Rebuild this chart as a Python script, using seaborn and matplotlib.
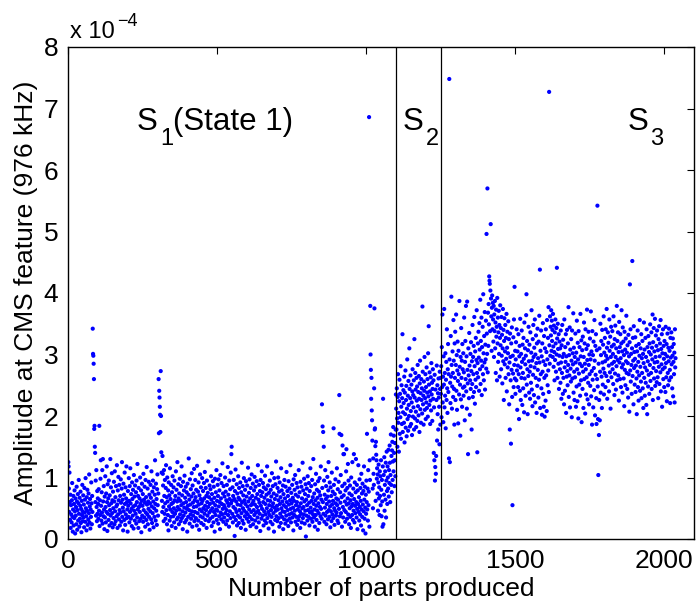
import numpy as np
import pandas as pd
import matplotlib
matplotlib.use("Agg")
import matplotlib.pyplot as plt
from matplotlib.ticker import FuncFormatter
import seaborn as sns

# Amplitude values in units of 1e-6, one per part produced
state1_amp = [
125, 118, 82, 44, 108, 60, 31, 72, 18, 55, 40, 27, 63, 91, 36, 12, 48, 70, 22, 57, 34, 79, 45, 9, 66,
38, 52, 24, 85, 61, 15, 47, 73, 30, 58, 96, 41, 20, 67, 33, 54, 77, 26, 49, 11, 62, 39, 88, 45, 29,
71, 35, 56, 19, 83, 43, 64, 28, 99, 50, 37, 14, 68, 46, 80, 23, 59, 32, 74, 42, 105, 27, 53, 65, 17,
48, 36, 92, 58, 24, 70, 44, 342, 301, 298, 285, 260, 179, 184, 150, 140, 60, 95, 38, 112, 52, 29, 78, 41, 66,
57, 33, 81, 46, 184, 21, 63, 39, 98, 128, 54, 30, 76, 43, 112, 25, 130, 61, 37, 86, 48, 16, 69, 35, 102,
52, 27, 74, 44, 118, 60, 13, 89, 41, 66, 31, 95, 55, 22, 71, 47, 130, 38, 84, 58, 26, 107, 42, 63, 19,
77, 50, 34, 93, 61, 24, 110, 45, 68, 29, 86, 53, 37, 120, 56, 18, 79, 40, 101, 63, 32, 88, 47, 22, 70,
43, 97, 59, 28, 82, 125, 36, 64, 51, 14, 90, 45, 72, 31, 108, 57, 23, 84, 40, 66, 118, 34, 60, 48, 12,
78, 54, 36, 99, 62, 27, 86, 44, 115, 58, 33, 73, 49, 21, 92, 65, 38, 80, 53, 17, 104, 46, 69, 30, 87,
55, 41, 76, 25, 95, 60, 35, 122, 48, 70, 18, 83, 52, 29, 66, 44, 100, 57, 33, 79, 11, 62, 90, 38, 54,
73, 28, 106, 47, 64, 35, 85, 59, 20, 96, 43, 68, 31, 117, 56, 40, 82, 24, 61, 49, 93, 36, 72, 15, 58,
45, 88, 67, 32, 110, 53, 26, 77, 42, 95, 61, 19, 84, 50, 36, 72, 128, 57, 30, 90, 46, 65, 23, 81, 105,
55, 38, 74, 260, 172, 241, 230, 215, 202, 174, 273, 200, 141, 108, 62, 44, 135, 106, 87, 52, 29, 112, 70, 41, 96,
58, 33, 83, 120, 47, 68, 24, 100, 61, 39, 79, 14, 92, 53, 71, 30, 115, 48, 65, 36, 88, 57, 21, 76, 44,
102, 59, 37, 84, 50, 27, 95, 63, 41, 70, 18, 110, 46, 80, 32, 61, 125, 52, 35, 89, 66, 24, 74, 48, 98,
40, 62, 29, 86, 55, 118, 34, 71, 45, 16, 93, 58, 38, 79, 51, 103, 27, 67, 43, 85, 60, 31, 76, 49, 12,
90, 54, 36, 72, 131, 47, 64, 25, 97, 56, 40, 81, 33, 69, 107, 45, 20, 87, 59, 38, 74, 52, 114, 29, 63,
44, 96, 68, 34, 80, 53, 22, 119, 61, 42, 77, 30, 92, 56, 15, 71, 48, 105, 37, 65, 84, 26, 58, 45, 99,
62, 35, 78, 50, 23, 91, 66, 41, 109, 54, 31, 83, 47, 70, 18, 95, 60, 38, 75, 52, 126, 29, 68, 43, 87,
57, 33, 81, 46, 102, 64, 21, 73, 50, 36, 94, 59, 27, 85, 44, 67, 12, 98, 55, 39, 76, 48, 112, 31, 62,
46, 88, 70, 25, 97, 53, 37, 79, 60, 16, 104, 43, 66, 32, 91, 57, 40, 123, 49, 74, 28, 86, 55, 35, 69,
51, 100, 42, 77, 24, 63, 47, 88, 30, 59, 117, 39, 72, 54, 20, 95, 65, 45, 81, 34, 108, 58, 138, 150, 62,
41, 84, 27, 70, 52, 96, 36, 65, 5, 78, 49, 113, 31, 61, 44, 89, 22, 74, 56, 38, 102, 67, 26, 83, 47,
64, 35, 92, 55, 18, 76, 42, 124, 60, 30, 86, 50, 71, 25, 99, 46, 63, 37, 80, 57, 15, 94, 43, 69, 33,
87, 53, 40, 116, 61, 28, 75, 48, 97, 36, 66, 21, 83, 55, 44, 105, 32, 70, 58, 90, 24, 62, 47, 79, 39,
101, 56, 30, 85, 67, 43, 19, 94, 52, 73, 35, 120, 46, 64, 27, 88, 59, 41, 78, 13, 96, 54, 70, 33, 110,
49, 76, 38, 91, 60, 22, 84, 45, 67, 30, 103, 57, 40, 81, 26, 72, 50, 118, 34, 63, 87, 44, 17, 75, 55,
39, 95, 62, 28, 80, 47, 69, 36, 107, 53, 24, 86, 58, 42, 74, 12, 99, 51, 65, 31, 89, 46, 126, 37, 71,
54, 29, 83, 48, 100, 63, 34, 77, 20, 92, 57, 41, 68, 26, 115, 50, 79, 36, 61, 45, 87, 16, 73, 55, 32,
96, 44, 66, 25, 85, 52, 38, 109, 60, 30, 78, 47, 70, 21, 94, 56, 40, 82, 33, 63, 120, 49, 27, 75, 58,
42, 88, 35, 67, 51, 14, 97, 62, 39, 80, 46, 104, 28, 72, 55, 36, 91, 60, 23, 84, 48, 69, 31, 112, 53,
37, 76, 45, 18, 93, 58, 41, 85, 27, 66, 50, 124, 34, 79, 52, 40, 98, 61, 25, 73, 46, 89, 4, 64, 38,
82, 55, 30, 102, 47, 70, 36, 91, 59, 22, 78, 43, 115, 51, 33, 86, 62, 45, 96, 28, 68, 40, 130, 57, 35,
74, 48, 20, 89, 63, 39, 106, 54, 31, 80, 46, 67, 15, 94, 58, 42, 77, 26, 99, 52, 71, 37, 118, 49, 64,
33, 219, 83, 183, 60, 174, 41, 150, 95, 28, 72, 51, 112, 38, 65, 86, 24, 57, 44, 101, 69, 32, 79, 125, 47,
61, 36, 92, 53, 19, 84, 45, 70, 29, 108, 56, 40, 77, 62, 34, 180, 88, 50, 23, 73, 46, 97, 58, 38, 66,
43, 115, 55, 30, 81, 64, 26, 93, 49, 234, 171, 37, 76, 59, 104, 42, 169, 68, 20, 86, 152, 52, 35, 138, 71,
138, 47, 90, 61, 28, 79, 44, 110, 146, 56, 33, 83, 66, 122, 40, 95, 58, 24, 74, 50, 87, 36, 63, 18, 100,
53, 71, 39, 125, 57, 31, 82, 46, 138, 65, 27, 92, 54, 42, 76, 130, 60, 35, 88, 49, 16, 79, 57, 120, 44,
68, 30, 97, 52, 40, 83, 62, 22, 106, 48, 74, 36, 90, 56, 14, 78, 45, 118, 64, 33, 85, 51, 9, 72, 41,
95, 60, 171, 48, 82, 30, 112, 55, 77, 686, 20, 128, 96, 379, 300, 275, 228, 262, 209, 193, 160, 82, 50, 131, 106,
88, 245, 375, 178, 180, 151, 62, 158, 137, 128, 98, 115, 74, 105, 46, 92, 121, 66, 84, 39, 110, 70, 102, 55, 128,
80, 37, 96, 61, 20, 118, 228, 24, 104, 72, 133, 46, 88, 110, 64, 124, 35, 95, 142, 78, 57, 118, 100, 82, 145,
69, 112, 91, 152, 124, 60, 104, 170, 88, 135, 76, 144, 158, 96, 126, 182, 110, 168, 140, 86, 128, 156, 102, 178, 235,
]

state2_amp = [
212, 178, 245, 196, 150, 231, 268, 189, 205, 142, 224, 259, 171, 236, 198, 281, 163, 215, 250, 187, 229, 333, 174, 206, 242,
221, 189, 264, 157, 238, 203, 274, 181, 226, 249, 167, 212, 292, 195, 233, 176, 257, 218, 200, 310, 244, 183, 229, 266, 208,
187, 251, 222, 169, 240, 276, 199, 234, 214, 258, 178, 325, 230, 196, 270, 243, 207, 182, 262, 225, 248, 192, 283, 216, 239,
201, 265, 228, 174, 253, 290, 211, 237, 189, 260, 226, 245, 204, 378, 272, 219, 233, 186, 256, 241, 296, 210, 229, 268, 195,
247, 222, 279, 213, 238, 260, 199, 302, 232, 346, 251, 218, 271, 240, 187, 225, 263, 209, 286, 235, 254, 192, 244, 276, 228,
258, 140, 214, 128, 267, 95, 117, 243, 106, 135, 226, 282, 160, 250, 203, 237, 178, 261, 230, 215, 154, 272, 244, 186, 262,
]

state3_amp = [
236, 281, 198, 312, 247, 365, 222, 264, 190, 297, 251, 374, 214, 270, 233, 302, 180, 259, 288, 226, 341, 245, 205, 276, 317,
239, 268, 131, 748, 292, 125, 254, 221, 330, 264, 394, 283, 212, 248, 305, 270, 231, 356, 290, 244, 186, 318, 262, 337, 226,
283, 365, 241, 299, 210, 274, 321, 257, 188, 306, 268, 235, 387, 280, 251, 168, 296, 227, 343, 262, 290, 215, 317, 276, 246,
302, 233, 271, 360, 248, 193, 288, 322, 260, 379, 240, 297, 212, 386, 275, 253, 138, 310, 266, 229, 335, 282, 202, 258, 301,
244, 320, 273, 178, 289, 252, 348, 231, 296, 268, 314, 239, 361, 281, 220, 305, 259, 327, 247, 291, 372, 270, 141, 286, 318,
263, 337, 295, 241, 351, 308, 276, 389, 252, 322, 290, 360, 234, 312, 281, 345, 268, 398, 302, 258, 330, 287, 369, 243, 316,
292, 355, 277, 496, 334, 301, 570, 271, 368, 314, 382, 349, 427, 420, 415, 338, 404, 512, 391, 362, 306, 376, 396, 341, 384,
357, 321, 379, 296, 365, 338, 387, 310, 352, 270, 373, 329, 345, 258, 392, 318, 360, 288, 336, 371, 301, 348, 264, 327, 380,
315, 343, 276, 361, 298, 332, 253, 310, 374, 289, 340, 226, 322, 359, 284, 305, 348, 262, 327, 293, 366, 240, 311, 337, 279,
302, 354, 268, 325, 219, 287, 178, 334, 296, 258, 155, 318, 275, 344, 231, 55, 298, 269, 328, 247, 357, 283, 410, 261, 306,
236, 292, 320, 258, 341, 274, 210, 305, 282, 247, 333, 268, 195, 297, 314, 241, 358, 279, 226, 301, 262, 339, 288, 218, 316,
270, 245, 327, 293, 206, 352, 261, 310, 284, 233, 298, 364, 398, 251, 322, 276, 203, 307, 265, 345, 289, 238, 316, 272, 228,
336, 281, 254, 303, 372, 243, 290, 216, 325, 267, 348, 296, 234, 311, 279, 357, 222, 300, 262, 331, 286, 205, 318, 249, 342,
275, 294, 230, 321, 259, 363, 287, 438, 213, 306, 268, 339, 245, 297, 202, 318, 272, 351, 236, 289, 215, 330, 262, 199, 310,
283, 225, 341, 266, 304, 208, 356, 292, 250, 327, 274, 377, 239, 727, 315, 285, 362, 298, 345, 331, 372, 306, 355, 322, 340,
296, 366, 313, 280, 347, 304, 258, 336, 291, 357, 318, 272, 343, 300, 441, 326, 262, 350, 309, 285, 333, 244, 298, 321, 276,
310, 254, 339, 287, 228, 315, 270, 348, 296, 236, 324, 262, 301, 219, 357, 279, 241, 312, 288, 333, 205, 297, 264, 340, 273,
250, 318, 283, 377, 231, 299, 266, 344, 214, 308, 277, 256, 325, 290, 198, 339, 261, 302, 284, 367, 238, 311, 272, 226, 296,
263, 334, 287, 215, 303, 248, 355, 276, 224, 319, 292, 196, 338, 269, 251, 312, 285, 233, 366, 297, 258, 323, 190, 281, 307,
244, 329, 272, 213, 296, 352, 260, 318, 285, 204, 341, 276, 235, 309, 263, 373, 291, 227, 315, 254, 337, 283, 219, 300, 268,
326, 249, 292, 370, 232, 305, 273, 186, 338, 259, 299, 214, 321, 278, 242, 356, 290, 201, 314, 267, 333, 229, 187, 307, 260,
542, 248, 195, 104, 285, 169, 226, 310, 193, 272, 350, 238, 299, 322, 264, 213, 340, 287, 251, 316, 277, 362, 235, 303, 270,
327, 289, 247, 341, 298, 265, 374, 311, 228, 293, 336, 257, 319, 282, 240, 357, 306, 271, 329, 212, 296, 345, 263, 313, 285,
338, 276, 301, 252, 362, 316, 288, 234, 325, 269, 347, 296, 243, 310, 281, 379, 258, 322, 291, 336, 266, 304, 225, 353, 287,
312, 260, 333, 294, 247, 318, 372, 279, 305, 238, 344, 284, 321, 261, 299, 216, 337, 275, 308, 250, 326, 289, 363, 270, 303,
244, 315, 286, 230, 332, 268, 297, 207, 320, 414, 274, 341, 256, 301, 283, 236, 310, 452, 265, 327, 290, 219, 346, 278, 304,
251, 293, 328, 239, 282, 314, 261, 203, 305, 272, 339, 247, 288, 225, 317, 266, 298, 356, 241, 280, 310, 256, 333, 229, 294,
270, 322, 245, 301, 213, 286, 352, 262, 308, 233, 279, 327, 254, 296, 218, 341, 274, 203, 312, 289, 248, 330, 267, 304, 236,
318, 283, 349, 257, 300, 270, 336, 244, 311, 292, 365, 226, 320, 278, 343, 261, 305, 287, 358, 249, 296, 331, 273, 314, 255,
339, 288, 263, 307, 229, 325, 280, 346, 252, 297, 318, 271, 356, 240, 309, 284, 333, 215, 302, 276, 341, 260, 314, 293, 247,
322, 279, 301, 239, 345, 286, 263, 317, 224, 297, 334, 270, 250, 311, 289, 342, 258, 306, 275, 221, 327, 295, 263, 336, 284,
312, 245, 298, 326, 232, 288, 317, 268, 303, 222, 341, 279, 294,
]

state_boundaries = [1100, 1250]
state_main = ["S", "S", "S"]
state_sub = ["1", "2", "3"]
state_suffix = ["(State 1)", "", ""]
state_label_x = [231, 1122, 1876]
x_ticks = [0, 500, 1000, 1500, 2000]
y_ticks = [0, 1e-4, 2e-4, 3e-4, 4e-4, 5e-4, 6e-4, 7e-4, 8e-4]

amp = np.array(state1_amp + state2_amp + state3_amp, dtype=float) * 1e-6
parts = np.arange(1, len(amp) + 1)
df = pd.DataFrame({"part": parts, "amp": amp})

sns.set_style("white")
plt.rcParams["font.family"] = ["Liberation Sans", "DejaVu Sans"]
plt.rcParams["mathtext.default"] = "regular"
plt.rcParams["axes.unicode_minus"] = True
for k in ["text.color", "axes.labelcolor", "xtick.color", "ytick.color", "axes.edgecolor"]:
    plt.rcParams[k] = "black"

fig = plt.figure(figsize=(6.97, 6.08), dpi=100)
ax = fig.add_axes([68 / 697, 69 / 608, 626 / 697, 492 / 608])

sns.scatterplot(data=df, x="part", y="amp", ax=ax, color=(0, 0, 1), s=9,
                linewidth=0, edgecolor="none", legend=False)

for b in state_boundaries:
    ax.axvline(b, color="black", lw=0.9, zorder=3)

ax.set_xlim(0, 2100)
ax.set_ylim(0, 8e-4)
ax.set_xticks(x_ticks)
ax.set_yticks(y_ticks)
ax.yaxis.set_major_formatter(FuncFormatter(lambda v, p: f"{v * 1e4:g}"))

ax.tick_params(direction="in", length=5, width=0.8, top=True, right=True,
               labelsize=19, pad=7, colors="black")
for sp in ax.spines.values():
    sp.set_color("black")
    sp.set_linewidth(1.0)

ax.set_xlabel("Number of parts produced", fontsize=19, labelpad=3)
ax.set_ylabel("Amplitude at CMS feature (976 kHz)", fontsize=19, labelpad=4)

# per-unit width of a 22.5 pt "S" in data coordinates (approx. 23 px)
px_per_unit = (626 / 2100)
for main, sub, suf, xp in zip(state_main, state_sub, state_suffix, state_label_x):
    ax.text(xp, 6.78e-4, main, fontsize=22.5, va="center", ha="left")
    ax.text(xp + 23 / px_per_unit, 6.5e-4, sub, fontsize=17, va="center", ha="left")
    if suf:
        ax.text(xp + 36 / px_per_unit, 6.78e-4, suf, fontsize=22.5, va="center", ha="left")

ax.text(0.003, 1.008, "x 10", transform=ax.transAxes, fontsize=17, ha="left", va="bottom")
ax.text(0.078, 1.035, "\u22124", transform=ax.transAxes, fontsize=13, ha="left", va="bottom")

fig.savefig("out.png", dpi=100)
